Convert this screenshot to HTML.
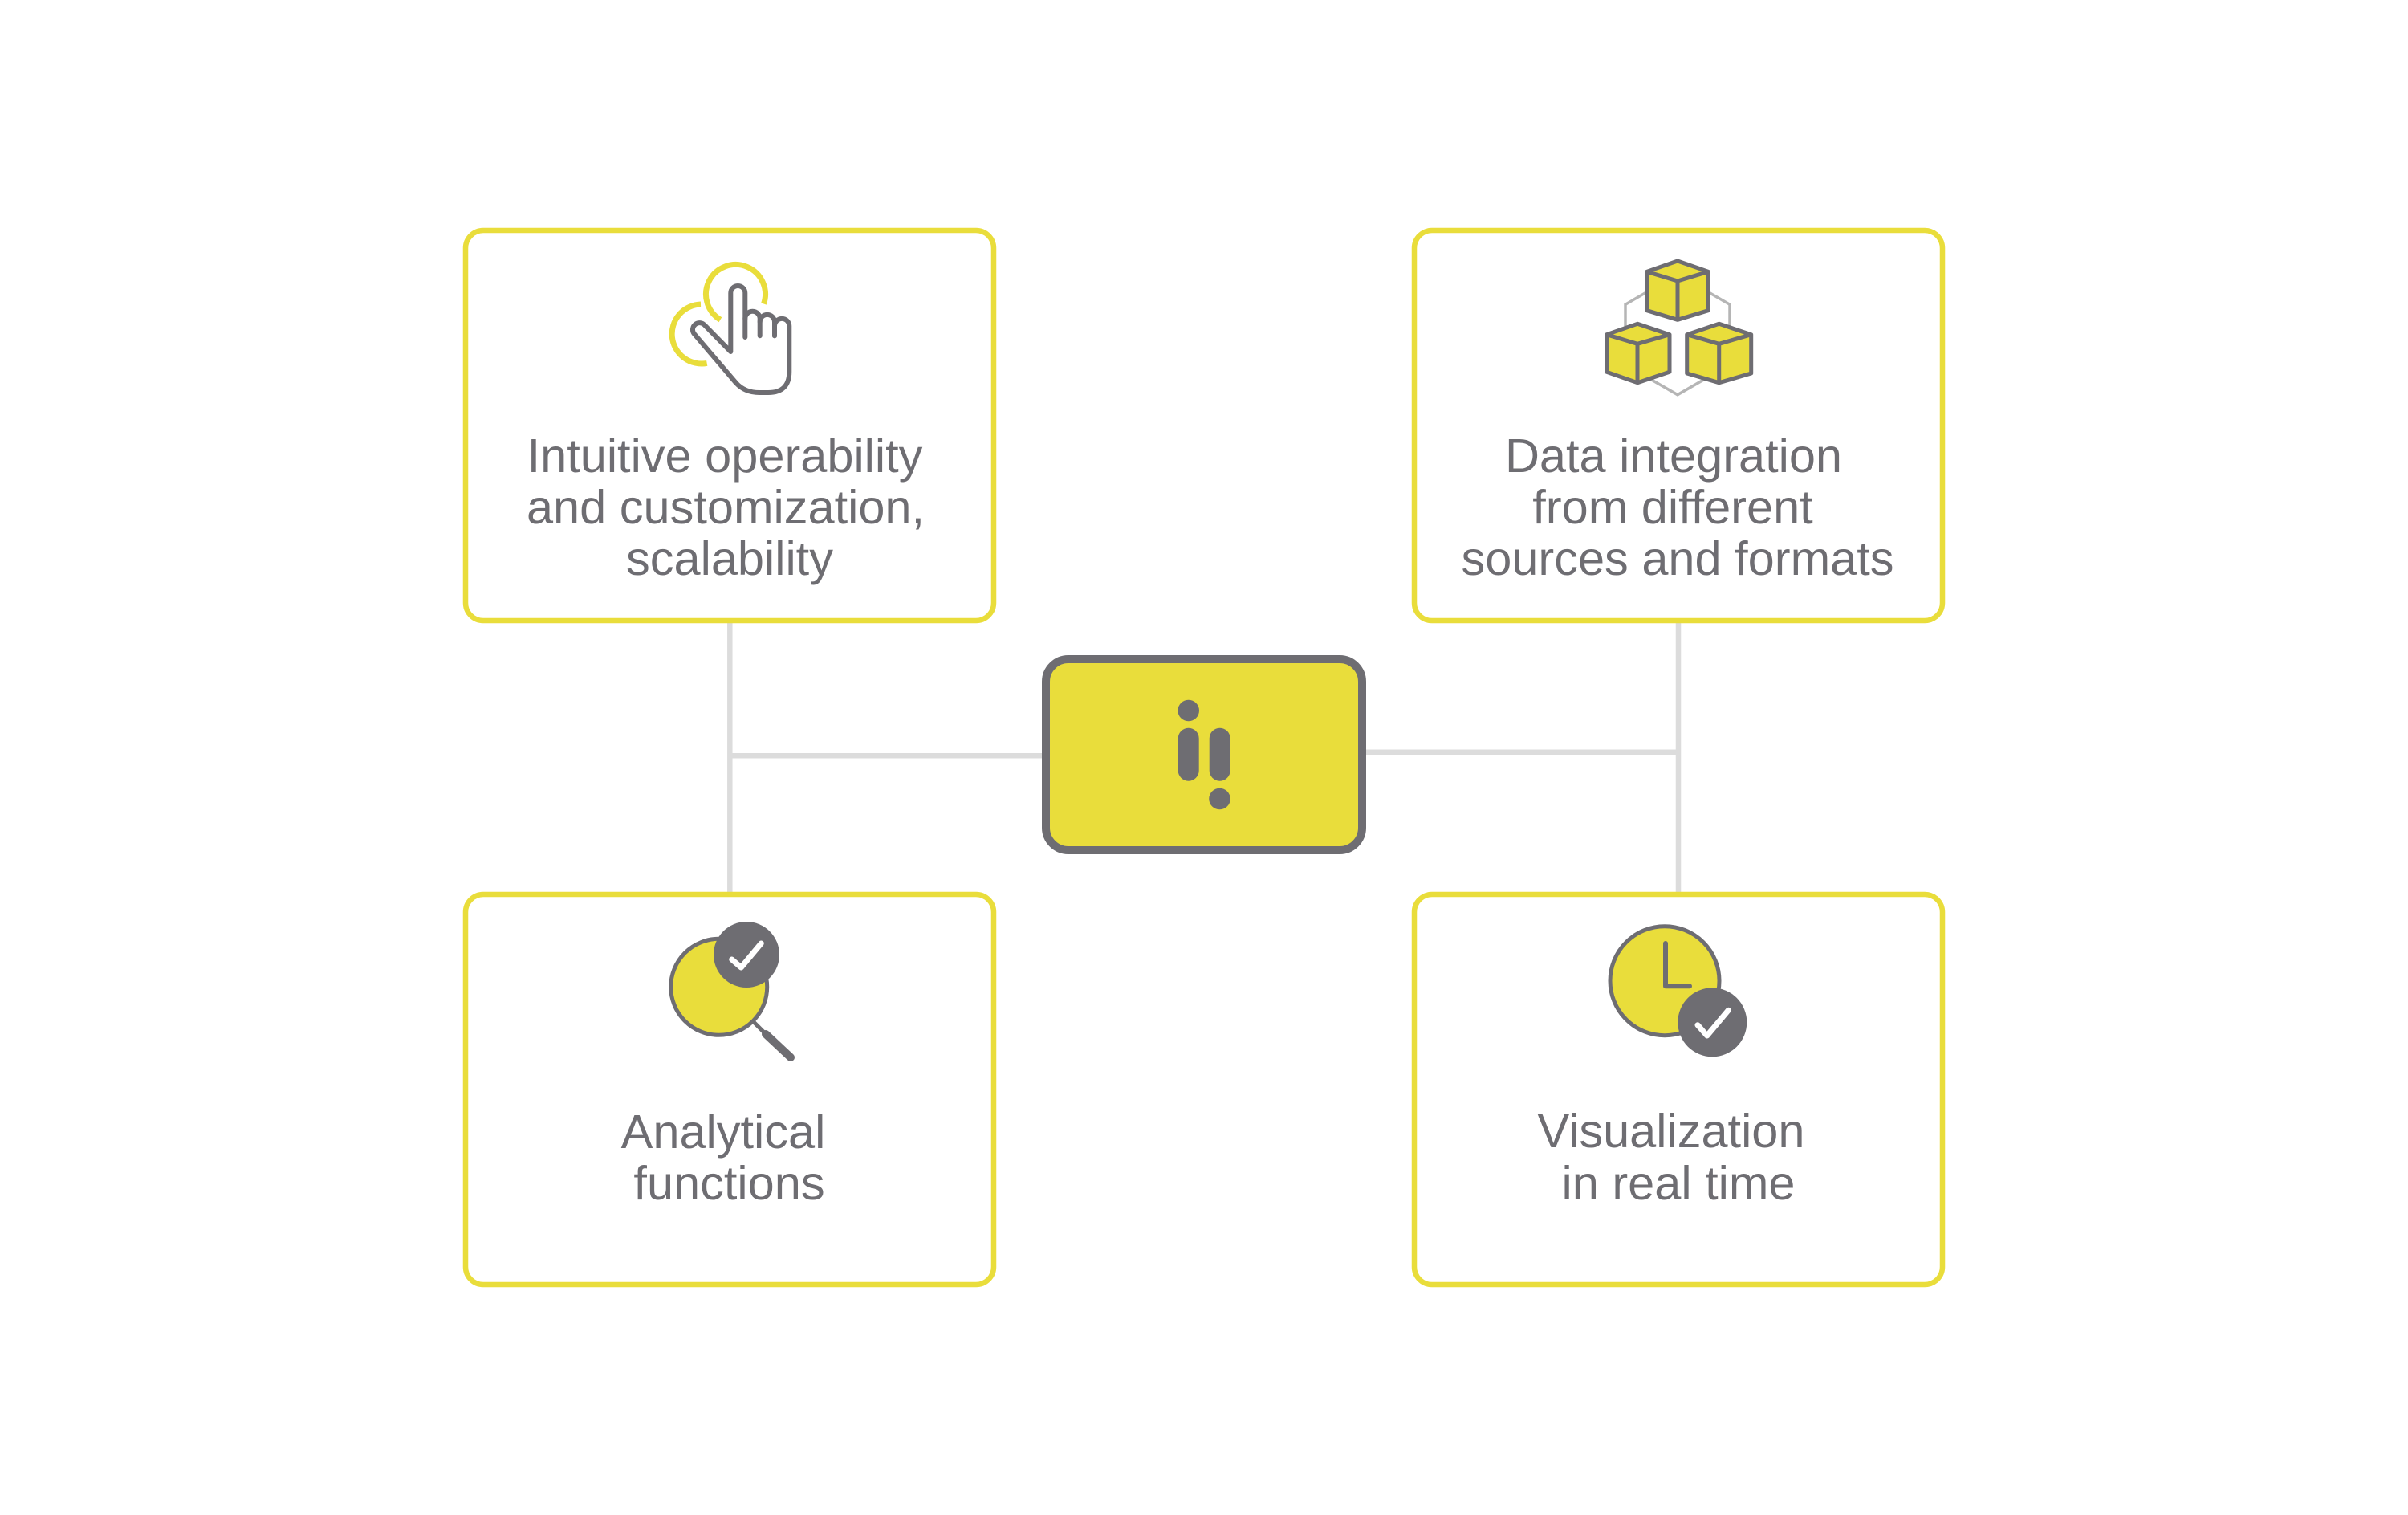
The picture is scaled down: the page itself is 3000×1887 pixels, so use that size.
<!DOCTYPE html>
<html>
<head>
<meta charset="utf-8">
<style>
  html,body{margin:0;padding:0;background:#ffffff;}
  body{width:3000px;height:1887px;overflow:hidden;}
  svg{display:block;}
  .t{font-family:"Liberation Sans",Arial,sans-serif;font-size:59.5px;fill:#6e6d72;text-anchor:middle;}
</style>
</head>
<body>
<svg width="3000" height="1887" viewBox="0 0 3000 1887" xmlns="http://www.w3.org/2000/svg">
  <rect x="0" y="0" width="3000" height="1887" fill="#ffffff"/>

  <!-- connectors -->
  <g stroke="#dcdcdc" stroke-width="6.5" fill="none">
    <line x1="909.3" y1="770" x2="909.3" y2="1117"/>
    <line x1="909.3" y1="941.3" x2="1305" y2="941.3"/>
    <line x1="2091" y1="770" x2="2091" y2="1117"/>
    <line x1="1695" y1="936.7" x2="2091" y2="936.7"/>
  </g>

  <!-- boxes -->
  <g fill="#ffffff" stroke="#e9dd3b" stroke-width="6.5">
    <rect x="580" y="287" width="658" height="486" rx="22" ry="22"/>
    <rect x="1762" y="287" width="658" height="486" rx="22" ry="22"/>
    <rect x="580" y="1114" width="658" height="486" rx="22" ry="22"/>
    <rect x="1762" y="1114" width="658" height="486" rx="22" ry="22"/>
  </g>

  <!-- center box -->
  <rect x="1303" y="821" width="394" height="238" rx="28" ry="28" fill="#e9dd3b" stroke="#6e6d72" stroke-width="10"/>
  <g fill="#6e6d72">
    <circle cx="1480.7" cy="885" r="13.3"/>
    <rect x="1467.7" y="906.7" width="26" height="66" rx="13" ry="13"/>
    <rect x="1506.7" y="906.7" width="26" height="66" rx="13" ry="13"/>
    <circle cx="1519.5" cy="995" r="13.3"/>
  </g>

  <!-- hand icon -->
  <g fill="none" stroke="#e9dd3b" stroke-width="7">
    <path d="M 897.4 398.2 A 37 37 0 1 1 951.5 378.5"/>
    <path d="M 880.7 452.4 A 37 37 0 1 1 873 379"/>
  </g>
  <g fill="none" stroke="#6e6d72" stroke-width="6" stroke-linejoin="round" stroke-linecap="round">
    <path d="M 928.3 420 V 365 A 9 9 0 0 0 910.3 365 V 438 L 877.6 404.7 A 8.5 8.5 0 0 0 864.4 415.3 L 917 477 Q 928 489 946 489 H 957 Q 983.3 489 983.3 463 V 406 A 9.15 9.15 0 0 0 965 406 V 418.3"/>
    <path d="M 928.3 397 A 9.2 9.2 0 0 1 946.7 397 V 418.3"/>
    <path d="M 946.7 401 A 9.15 9.15 0 0 1 965 401 V 418.3"/>
  </g>

  <!-- cubes icon -->
  <polygon points="2090,341.7 2155,379.2 2155,454.2 2090,491.7 2025,454.2 2025,379.2" fill="none" stroke="#b5b5b5" stroke-width="3.5"/>
  <g fill="#e9dd3b" stroke="#6e6d72" stroke-width="5" stroke-linejoin="round">
    <polygon points="2090,325 2128.3,338.3 2128.3,386.7 2090,398.3 2051.7,386.7 2051.7,338.3"/>
    <polyline fill="none" points="2051.7,338.3 2090,350 2128.3,338.3"/>
    <line x1="2090" y1="350" x2="2090" y2="398.3"/>
    <polygon points="2040,403.3 2080,416.7 2080,463.3 2040,476.7 2001.7,463.3 2001.7,416.7"/>
    <polyline fill="none" points="2001.7,416.7 2040,428.3 2080,416.7"/>
    <line x1="2040" y1="428.3" x2="2040" y2="476.7"/>
    <polygon points="2141.7,403.3 2181.7,416.7 2181.7,465 2141.7,476.7 2101.7,465 2101.7,416.7"/>
    <polyline fill="none" points="2101.7,416.7 2141.7,428.3 2181.7,416.7"/>
    <line x1="2141.7" y1="428.3" x2="2141.7" y2="476.7"/>
  </g>

  <!-- magnifier icon -->
  <line x1="936" y1="1270" x2="952" y2="1286" stroke="#6e6d72" stroke-width="5" stroke-linecap="round"/>
  <line x1="954" y1="1288" x2="985" y2="1317" stroke="#6e6d72" stroke-width="10" stroke-linecap="round"/>
  <circle cx="895.7" cy="1229.3" r="60" fill="#e9dd3b" stroke="#6e6d72" stroke-width="5"/>
  <circle cx="930" cy="1189" r="41" fill="#6e6d72"/>
  <polyline points="911.7,1195 923.3,1205 948.3,1175" fill="none" stroke="#ffffff" stroke-width="7" stroke-linecap="round" stroke-linejoin="round"/>

  <!-- clock icon -->
  <circle cx="2074" cy="1221.7" r="68" fill="#e9dd3b" stroke="#6e6d72" stroke-width="5"/>
  <polyline points="2075,1175 2075,1228.3 2105,1228.3" fill="none" stroke="#6e6d72" stroke-width="6" stroke-linecap="round" stroke-linejoin="round"/>
  <circle cx="2133.3" cy="1273.3" r="43" fill="#6e6d72"/>
  <polyline points="2115,1276.7 2126.7,1290 2153.3,1258.3" fill="none" stroke="#ffffff" stroke-width="7" stroke-linecap="round" stroke-linejoin="round"/>

  <!-- texts -->
  <text class="t" x="903" y="588">Intuitive operability</text>
  <text class="t" x="904" y="652">and customization,</text>
  <text class="t" x="909" y="716">scalability</text>

  <text class="t" x="2085" y="588">Data integration</text>
  <text class="t" x="2084" y="652">from different</text>
  <text class="t" x="2090" y="716">sources and formats</text>

  <text class="t" x="901" y="1430">Analytical</text>
  <text class="t" x="908.5" y="1494">functions</text>

  <text class="t" x="2082" y="1429">Visualization</text>
  <text class="t" x="2091" y="1494">in real time</text>
</svg>
</body>
</html>
